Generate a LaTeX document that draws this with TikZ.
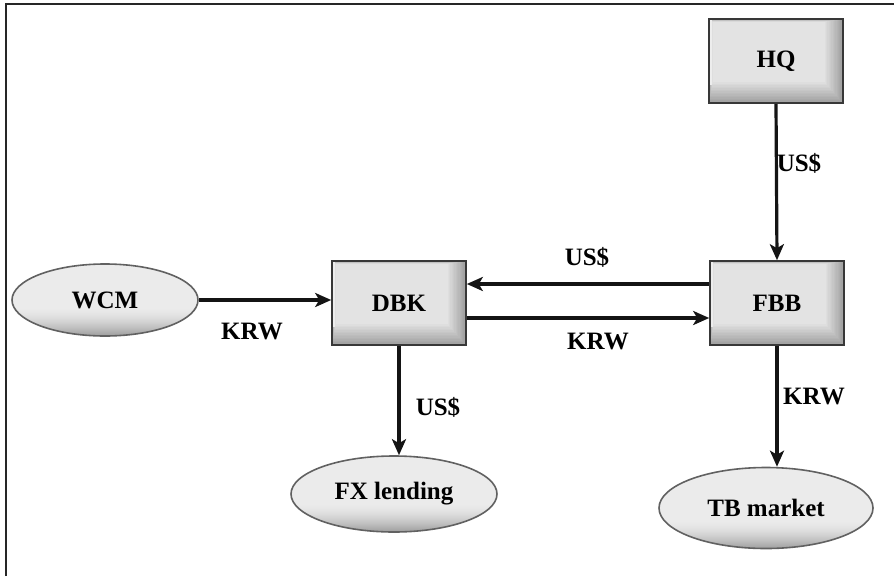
\documentclass[tikz,border=0pt]{standalone}
\usepackage{fontspec}
\setmainfont{Liberation Serif}
\usetikzlibrary{arrows.meta,shapes.geometric}
\begin{document}
\begin{tikzpicture}[x=1pt,y=-1pt,
  every node/.style={font=\fontsize{25}{29}\selectfont\bfseries, text=black},
  box/.style={draw=black!78, line width=1.6pt, minimum width=134pt, minimum height=84pt,
    fill=gray!70, inner sep=0pt,
    path picture={
      % bevel: nested rectangles lightening toward the upper-left face
      \foreach \i in {0,...,14} {
        \pgfmathsetmacro\shadeval{75-53*\i/14}
        \fill[gray!\shadeval]
          ([xshift={\i*0.25pt}, yshift={-\i*0.2pt}]path picture bounding box.north west)
          rectangle
          ([xshift={-\i*1.3pt}, yshift={\i*1.5pt}]path picture bounding box.south east);
      }
      \fill[gray!14] ([xshift=0.8pt,yshift=-0.8pt]path picture bounding box.north west)
        rectangle ([xshift=3pt,yshift=18pt]path picture bounding box.south west);
    }},
  oval/.style={ellipse, draw=black!62, line width=1.6pt, inner sep=0pt, fill=gray!16,
    path picture={
      % darkening toward the lower rim, in thin horizontal bands
      \foreach \i in {0,...,27} {
        \pgfmathsetmacro\shadeval{16+58*(\i/27)^1.6}
        \fill[gray!\shadeval]
          ([yshift={(28-\i)*1pt}]path picture bounding box.south west)
          rectangle ([yshift={(26.8-\i)*1pt}]path picture bounding box.south east);
      }
    }},
  flow/.style={line width=3.2pt, draw=black!92, -{Stealth[length=16pt,width=14pt,inset=4pt]}},
  lbl/.style={inner sep=0pt}
]
\useasboundingbox (0,0) rectangle (894,576);
\fill[white] (0,0) rectangle (894,576);
% frame lines
\draw[line width=2.8pt, black!85] (6,576) -- (6,4) -- (894,4);

% boxes
\node[box] (hq)  at (776,61)  {HQ};
\node[box] (fbb) at (777,303) {FBB};
\node[box] (dbk) at (399,303) {DBK};

% ellipses
\node[oval, minimum width=186pt, minimum height=72pt] (wcm) at (105,300) {WCM};
\node[oval, minimum width=206pt, minimum height=76pt] (fxl) at (394,494) {FX lending};
\node[oval, minimum width=214pt, minimum height=81pt] (tbm) at (766,508) {TB market};

% flows
\draw[flow] (hq.south) -- (fbb.north);
\draw[flow] ([yshift=19pt]fbb.west) -- ([yshift=19pt]dbk.east);
\draw[flow] ([yshift=-15pt]dbk.east) -- ([yshift=-15pt]fbb.west);
\draw[flow] (wcm.east) -- ([yshift=3pt]dbk.west);
\draw[flow] (dbk.south) -- (dbk.south |- fxl.north);
\draw[flow] (fbb.south) -- (fbb.south |- tbm.north);

% labels
\node[lbl] (l1) at (799,163) {US\$};
\node[lbl] (l2) at (587,257) {US\$};
\node[lbl] (l3) at (598,341) {KRW};
\node[lbl] (l4) at (252,331) {KRW};
\node[lbl] (l5) at (438,407) {US\$};
\node[lbl] (l6) at (814,396) {KRW};
\end{tikzpicture}
\end{document}
